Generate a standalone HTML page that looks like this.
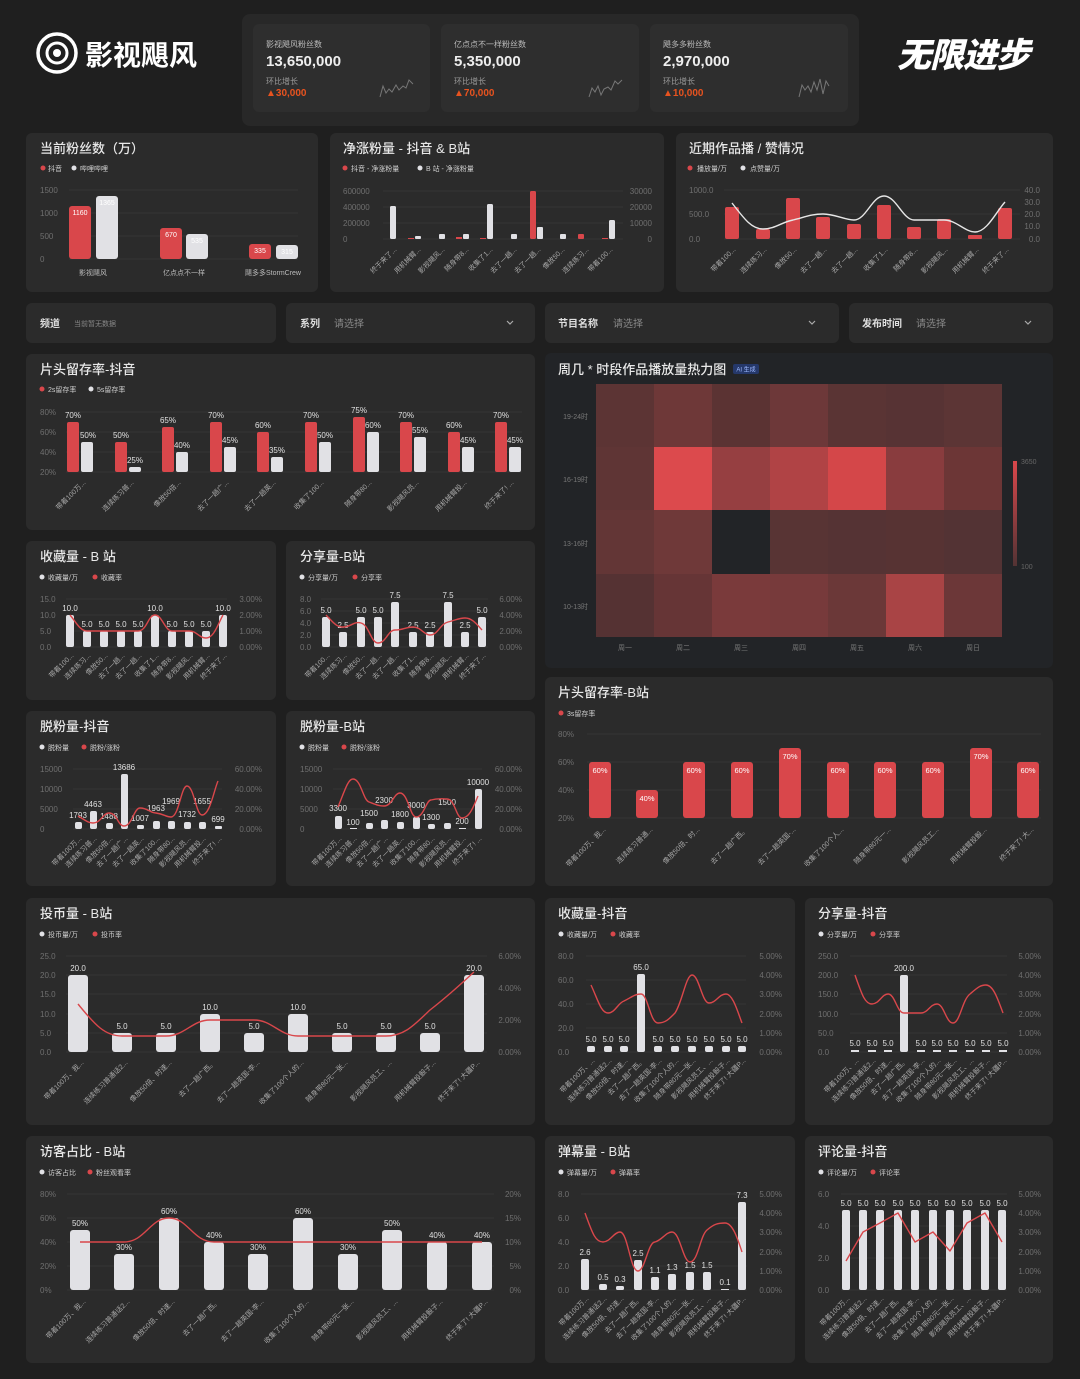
<!DOCTYPE html>
<html><head><meta charset="utf-8"><style>
html,body{margin:0;padding:0;background:#1f1f1f;}
svg{display:block;font-family:"Liberation Sans","Noto Sans CJK SC",sans-serif;}
.p{fill:#2b2b2b}
.t{fill:#e8e8e8;font-size:13px;font-weight:500}
.l{fill:#cfcfcf;font-size:7px}
.a{fill:#6f6f6f;font-size:8px}
.ar{fill:#6f6f6f;font-size:8px;text-anchor:end}
.v{fill:#e0e0e0;font-size:8px;text-anchor:middle}
.x{fill:#a8a8a8;font-size:7px;text-anchor:end}
.g{stroke:#3b3b3b;stroke-width:0.8}
.w{fill:#e1e1e5}
.r{fill:#d9474b}
.ln{fill:none;stroke:#d9474b;stroke-width:1.4;stroke-linejoin:round}
.f1{fill:#e0e0e0;font-size:10px;font-weight:600}
.f2{fill:#888;font-size:10px}
</style></head><body>
<svg width="1080" height="1379" viewBox="0 0 1080 1379" xmlns="http://www.w3.org/2000/svg">
<rect width="1080" height="1379" fill="#1f1f1f"/>

<!-- logo -->
<circle cx="57" cy="53" r="19" fill="none" stroke="#fff" stroke-width="3.5"/>
<circle cx="57" cy="53" r="10" fill="none" stroke="#fff" stroke-width="3"/>
<circle cx="57" cy="53" r="4" fill="#fff"/>
<text x="85" y="65" fill="#fff" font-size="28" font-weight="700">影视飓风</text>
<text x="897" y="67" fill="#fff" font-size="34" font-weight="900" font-style="italic" letter-spacing="-1">无限进步</text>

<!-- KPI -->
<rect x="242" y="14" width="617" height="112" rx="8" fill="#282828"/>
<rect x="253" y="24" width="177" height="88" rx="6" fill="#2e2e2e"/>
<rect x="441" y="24" width="198" height="88" rx="6" fill="#2e2e2e"/>
<rect x="650" y="24" width="198" height="88" rx="6" fill="#2e2e2e"/>
<g>
<text x="266" y="47" fill="#bbb" font-size="8">影视飓风粉丝数</text>
<text x="266" y="66" fill="#eee" font-size="15" font-weight="700">13,650,000</text>
<text x="266" y="84" fill="#999" font-size="8">环比增长</text>
<text x="266" y="96" fill="#e8531f" font-size="10" font-weight="600">▲30,000</text>
<polyline points="380,97 383,86 386,93 389,89 392,92 396,85 399,90 403,86 406,88 409,80 413,84" fill="none" stroke="#777" stroke-width="1"/>
<text x="454" y="47" fill="#bbb" font-size="8">亿点点不一样粉丝数</text>
<text x="454" y="66" fill="#eee" font-size="15" font-weight="700">5,350,000</text>
<text x="454" y="84" fill="#999" font-size="8">环比增长</text>
<text x="454" y="96" fill="#e8531f" font-size="10" font-weight="600">▲70,000</text>
<polyline points="589,97 592,88 595,92 598,86 601,95 604,89 608,87 611,90 615,81 618,84 622,80" fill="none" stroke="#777" stroke-width="1"/>
<text x="663" y="47" fill="#bbb" font-size="8">飓多多粉丝数</text>
<text x="663" y="66" fill="#eee" font-size="15" font-weight="700">2,970,000</text>
<text x="663" y="84" fill="#999" font-size="8">环比增长</text>
<text x="663" y="96" fill="#e8531f" font-size="10" font-weight="600">▲10,000</text>
<polyline points="799,97 802,85 805,90 808,86 811,92 814,82 817,90 820,79 823,94 826,81 829,86" fill="none" stroke="#777" stroke-width="1"/>
</g>

<!-- P1 当前粉丝数 -->
<rect class="p" x="26" y="133" width="292" height="159" rx="6"/>
<text class="t" x="40" y="153">当前粉丝数（万）</text>
<circle class="r" cx="43" cy="168" r="2.5"/><text class="l" x="48" y="171">抖音</text>
<circle class="w" cx="74" cy="168" r="2.5"/><text class="l" x="80" y="171">哔哩哔哩</text>
<g class="g"><line x1="69" x2="298" y1="190" y2="190"/><line x1="69" x2="298" y1="213" y2="213"/><line x1="69" x2="298" y1="236" y2="236"/><line x1="69" x2="298" y1="259" y2="259"/></g>
<text class="a" x="40" y="193">1500</text><text class="a" x="40" y="216">1000</text><text class="a" x="40" y="239">500</text><text class="a" x="40" y="262">0</text>
<rect class="r" x="69" y="206" width="22" height="53" rx="3"/><rect class="w" x="96" y="196" width="22" height="63" rx="3"/>
<rect class="r" x="160" y="228" width="22" height="31" rx="3"/><rect class="w" x="186" y="234" width="22" height="25" rx="3"/>
<rect class="r" x="249" y="244" width="22" height="15" rx="3"/><rect class="w" x="276" y="245" width="22" height="14" rx="3"/>
<g font-size="7" text-anchor="middle"><text x="80" y="215" fill="#fff">1160</text><text x="107" y="205" fill="#fff">1365</text><text x="171" y="237" fill="#fff">670</text><text x="197" y="243" fill="#fff">535</text><text x="260" y="253" fill="#fff">335</text><text x="287" y="254" fill="#fff">315</text></g>
<g fill="#bbb" font-size="7" text-anchor="middle"><text x="93" y="275">影视飓风</text><text x="184" y="275">亿点点不一样</text><text x="273" y="275">飓多多StormCrew</text></g>

<!-- P2 净涨粉量 -->
<rect class="p" x="330" y="133" width="334" height="159" rx="6"/>
<text class="t" x="343" y="153">净涨粉量 - 抖音 &amp; B站</text>
<circle class="r" cx="345" cy="168" r="2.5"/><text class="l" x="351" y="171">抖音 - 净涨粉量</text>
<circle class="w" cx="420" cy="168" r="2.5"/><text class="l" x="426" y="171">B 站 - 净涨粉量</text>
<g class="g"><line x1="383" x2="623" y1="191" y2="191"/><line x1="383" x2="623" y1="207" y2="207"/><line x1="383" x2="623" y1="223" y2="223"/><line x1="383" x2="623" y1="239" y2="239"/></g>
<text class="a" x="343" y="194">600000</text><text class="a" x="343" y="210">400000</text><text class="a" x="343" y="226">200000</text><text class="a" x="343" y="242">0</text>
<text class="ar" x="652" y="194">30000</text><text class="ar" x="652" y="210">20000</text><text class="ar" x="652" y="226">10000</text><text class="ar" x="652" y="242">0</text>
<rect class="w" x="390" y="206" width="6" height="33" rx="1.5"/>
<rect class="r" x="408" y="238" width="6" height="1"/><rect class="w" x="415" y="236" width="6" height="3" rx="1"/>
<rect class="w" x="439" y="234" width="6" height="5" rx="1"/>
<rect class="r" x="456" y="237" width="6" height="2"/><rect class="w" x="463" y="234" width="6" height="5" rx="1"/>
<rect class="r" x="480" y="238" width="6" height="1"/><rect class="w" x="487" y="204" width="6" height="35" rx="1.5"/>
<rect class="w" x="511" y="234" width="6" height="5" rx="1"/>
<rect class="r" x="530" y="191" width="6" height="48" rx="1.5"/><rect class="w" x="537" y="227" width="6" height="12" rx="1"/>
<rect class="w" x="560" y="234" width="6" height="5" rx="1"/>
<rect class="r" x="578" y="234" width="6" height="5" rx="1"/>
<rect class="r" x="602" y="238" width="6" height="1"/><rect class="w" x="609" y="220" width="6" height="19" rx="1.5"/>
<g class="x"><text transform="translate(397,250) rotate(-45)">终于来了...</text><text transform="translate(421,250) rotate(-45)">用机械臂...</text><text transform="translate(445,250) rotate(-45)">影视飓风...</text><text transform="translate(469,250) rotate(-45)">随身带8...</text><text transform="translate(493,250) rotate(-45)">收集了1...</text><text transform="translate(517,250) rotate(-45)">去了一趟...</text><text transform="translate(541,250) rotate(-45)">去了一趟...</text><text transform="translate(565,250) rotate(-45)">像放50...</text><text transform="translate(589,250) rotate(-45)">连续练习...</text><text transform="translate(613,250) rotate(-45)">带着100...</text></g>

<!-- P3 近期作品 -->
<rect class="p" x="676" y="133" width="377" height="159" rx="6"/>
<text class="t" x="689" y="153">近期作品播 / 赞情况</text>
<circle class="r" cx="690" cy="168" r="2.5"/><text class="l" x="697" y="171">播放量/万</text>
<circle class="w" cx="743" cy="168" r="2.5"/><text class="l" x="750" y="171">点赞量/万</text>
<g class="g"><line x1="724" x2="1020" y1="190" y2="190"/><line x1="724" x2="1020" y1="214" y2="214"/><line x1="724" x2="1020" y1="239" y2="239"/></g>
<text class="a" x="689" y="193">1000.0</text><text class="a" x="689" y="217">500.0</text><text class="a" x="689" y="242">0.0</text>
<text class="ar" x="1040" y="193">40.0</text><text class="ar" x="1040" y="205">30.0</text><text class="ar" x="1040" y="217">20.0</text><text class="ar" x="1040" y="229">10.0</text><text class="ar" x="1040" y="242">0.0</text>
<g class="r"><rect x="725" y="207" width="14" height="32" rx="2"/><rect x="756" y="229" width="14" height="10" rx="2"/><rect x="786" y="198" width="14" height="41" rx="2"/><rect x="816" y="217" width="14" height="22" rx="2"/><rect x="847" y="224" width="14" height="15" rx="2"/><rect x="877" y="205" width="14" height="34" rx="2"/><rect x="907" y="227" width="14" height="12" rx="2"/><rect x="937" y="219" width="14" height="20" rx="2"/><rect x="968" y="235" width="14" height="4" rx="1"/><rect x="998" y="208" width="14" height="31" rx="2"/></g>
<path d="M732,203 C745,220 752,229 763,229 C775,229 782,222 793,220 C805,217 812,214 823,214 C835,214 845,220 854,220 C866,220 872,196 884,196 C896,196 903,220 914,220 L944,220 C956,220 965,232 975,232 C987,232 996,212 1005,202" fill="none" stroke="#e6e6e6" stroke-width="1.4"/>
<g class="x"><text transform="translate(736,250) rotate(-45)">带着100...</text><text transform="translate(767,250) rotate(-45)">连续练习...</text><text transform="translate(797,250) rotate(-45)">像放50...</text><text transform="translate(827,250) rotate(-45)">去了一趟...</text><text transform="translate(858,250) rotate(-45)">去了一趟...</text><text transform="translate(888,250) rotate(-45)">收集了1...</text><text transform="translate(918,250) rotate(-45)">随身带8...</text><text transform="translate(948,250) rotate(-45)">影视飓风...</text><text transform="translate(979,250) rotate(-45)">用机械臂...</text><text transform="translate(1009,250) rotate(-45)">终于来了...</text></g>

<!-- Filters -->
<rect class="p" x="26" y="303" width="250" height="40" rx="6"/>
<rect class="p" x="286" y="303" width="249" height="40" rx="6"/>
<rect class="p" x="545" y="303" width="294" height="40" rx="6"/>
<rect class="p" x="849" y="303" width="204" height="40" rx="6"/>
<text class="f1" x="40" y="327">频道</text><text x="74" y="326" fill="#888" font-size="7">当前暂无数据</text>
<text class="f1" x="300" y="327">系列</text><text class="f2" x="334" y="327">请选择</text>
<text class="f1" x="558" y="327">节目名称</text><text class="f2" x="613" y="327">请选择</text>
<text class="f1" x="862" y="327">发布时间</text><text class="f2" x="916" y="327">请选择</text>
<g fill="none" stroke="#aaa" stroke-width="1.2"><polyline points="507,321 510,324 513,321"/><polyline points="809,321 812,324 815,321"/><polyline points="1025,321 1028,324 1031,321"/></g>

<!-- 片头留存率-抖音 -->
<rect class="p" x="26" y="354" width="509" height="176" rx="6"/>
<text class="t" x="40" y="374">片头留存率-抖音</text>
<circle class="r" cx="42" cy="389" r="2.5"/><text class="l" x="48" y="392">2s留存率</text>
<circle class="w" cx="91" cy="389" r="2.5"/><text class="l" x="97" y="392">5s留存率</text>
<g class="g"><line x1="66" x2="522" y1="412" y2="412"/><line x1="66" x2="522" y1="432" y2="432"/><line x1="66" x2="522" y1="452" y2="452"/><line x1="66" x2="522" y1="472" y2="472"/></g>
<text class="a" x="40" y="415">80%</text><text class="a" x="40" y="435">60%</text><text class="a" x="40" y="455">40%</text><text class="a" x="40" y="475">20%</text>
<g class="r"><rect x="67" y="422" width="12" height="50" rx="2"/><rect x="115" y="442" width="12" height="30" rx="2"/><rect x="162" y="427" width="12" height="45" rx="2"/><rect x="210" y="422" width="12" height="50" rx="2"/><rect x="257" y="432" width="12" height="40" rx="2"/><rect x="305" y="422" width="12" height="50" rx="2"/><rect x="353" y="417" width="12" height="55" rx="2"/><rect x="400" y="422" width="12" height="50" rx="2"/><rect x="448" y="432" width="12" height="40" rx="2"/><rect x="495" y="422" width="12" height="50" rx="2"/></g>
<g class="w"><rect x="81" y="442" width="12" height="30" rx="2"/><rect x="129" y="467" width="12" height="5" rx="2"/><rect x="176" y="452" width="12" height="20" rx="2"/><rect x="224" y="447" width="12" height="25" rx="2"/><rect x="271" y="457" width="12" height="15" rx="2"/><rect x="319" y="442" width="12" height="30" rx="2"/><rect x="367" y="432" width="12" height="40" rx="2"/><rect x="414" y="437" width="12" height="35" rx="2"/><rect x="462" y="447" width="12" height="25" rx="2"/><rect x="509" y="447" width="12" height="25" rx="2"/></g>
<g class="v"><text x="73" y="418">70%</text><text x="121" y="438">50%</text><text x="168" y="423">65%</text><text x="216" y="418">70%</text><text x="263" y="428">60%</text><text x="311" y="418">70%</text><text x="359" y="413">75%</text><text x="406" y="418">70%</text><text x="454" y="428">60%</text><text x="501" y="418">70%</text>
<text x="88" y="438">50%</text><text x="135" y="463">25%</text><text x="182" y="448">40%</text><text x="230" y="443">45%</text><text x="277" y="453">35%</text><text x="325" y="438">50%</text><text x="373" y="428">60%</text><text x="420" y="433">55%</text><text x="468" y="443">45%</text><text x="515" y="443">45%</text></g>
<g class="x"><text transform="translate(86,483) rotate(-45)">带着100万...</text><text transform="translate(134,483) rotate(-45)">连续练习普...</text><text transform="translate(181,483) rotate(-45)">像放50倍...</text><text transform="translate(229,483) rotate(-45)">去了一趟广...</text><text transform="translate(276,483) rotate(-45)">去了一趟英...</text><text transform="translate(324,483) rotate(-45)">收集了100...</text><text transform="translate(372,483) rotate(-45)">随身带80...</text><text transform="translate(419,483) rotate(-45)">影视飓风员...</text><text transform="translate(467,483) rotate(-45)">用机械臂投...</text><text transform="translate(514,483) rotate(-45)">终于来了! ...</text></g>

<!-- Heatmap -->
<rect x="545" y="353" width="508" height="315" rx="6" fill="#222427"/>
<text class="t" x="558" y="374">周几 * 时段作品播放量热力图</text>
<rect x="733" y="364" width="26" height="10" rx="2" fill="#25386a"/><text x="746" y="371.5" fill="#9db8ff" font-size="6" text-anchor="middle">AI 生成</text>
<g>
<rect x="596" y="384" width="58" height="64" fill="#5c3434"/><rect x="654" y="384" width="58" height="64" fill="#6e3838"/><rect x="712" y="384" width="58" height="64" fill="#5b3333"/><rect x="770" y="384" width="58" height="64" fill="#6d3839"/><rect x="828" y="384" width="58" height="64" fill="#5a3434"/><rect x="886" y="384" width="58" height="64" fill="#573334"/><rect x="944" y="384" width="58" height="64" fill="#5c3535"/>
<rect x="596" y="447" width="58" height="64" fill="#5f3535"/><rect x="654" y="447" width="58" height="64" fill="#dc4a4d"/><rect x="712" y="447" width="58" height="64" fill="#963f41"/><rect x="770" y="447" width="58" height="64" fill="#b04345"/><rect x="828" y="447" width="58" height="64" fill="#d44749"/><rect x="886" y="447" width="58" height="64" fill="#893c3e"/><rect x="944" y="447" width="58" height="64" fill="#6c3636"/>
<rect x="596" y="510" width="58" height="64" fill="#633636"/><rect x="654" y="510" width="58" height="64" fill="#6f3939"/><rect x="712" y="510" width="58" height="64" fill="#222427"/><rect x="770" y="510" width="58" height="64" fill="#583434"/><rect x="828" y="510" width="58" height="64" fill="#553334"/><rect x="886" y="510" width="58" height="64" fill="#573333"/><rect x="944" y="510" width="58" height="64" fill="#533334"/>
<rect x="596" y="574" width="58" height="63" fill="#553233"/><rect x="654" y="574" width="58" height="63" fill="#663536"/><rect x="712" y="574" width="58" height="63" fill="#7a3a3b"/><rect x="770" y="574" width="58" height="63" fill="#773a3b"/><rect x="828" y="574" width="58" height="63" fill="#6b3838"/><rect x="886" y="574" width="58" height="63" fill="#a94445"/><rect x="944" y="574" width="58" height="63" fill="#6c3738"/>
</g>
<g class="ar" font-size="7"><text x="588" y="419" fill="#777" font-size="7">19-24时</text><text x="588" y="482" fill="#777" font-size="7">16-19时</text><text x="588" y="546" fill="#777" font-size="7">13-16时</text><text x="588" y="609" fill="#777" font-size="7">10-13时</text></g>
<g fill="#777" font-size="7" text-anchor="middle"><text x="625" y="650">周一</text><text x="683" y="650">周二</text><text x="741" y="650">周三</text><text x="799" y="650">周四</text><text x="857" y="650">周五</text><text x="915" y="650">周六</text><text x="973" y="650">周日</text></g>
<defs><linearGradient id="cb" x1="0" y1="0" x2="0" y2="1"><stop offset="0" stop-color="#d9474b"/><stop offset="1" stop-color="#533334"/></linearGradient></defs>
<rect x="1013" y="461" width="4" height="105" fill="url(#cb)"/>
<text x="1021" y="464" fill="#666" font-size="7">3650</text><text x="1021" y="569" fill="#666" font-size="7">100</text>

<!-- 收藏量-B站 -->
<rect class="p" x="26" y="541" width="250" height="159" rx="6"/>
<text class="t" x="40" y="561">收藏量 - B 站</text>
<circle class="w" cx="42" cy="577" r="2.5"/><text class="l" x="48" y="580">收藏量/万</text>
<circle class="r" cx="95" cy="577" r="2.5"/><text class="l" x="101" y="580">收藏率</text>
<g class="g"><line x1="66" x2="227" y1="599" y2="599"/><line x1="66" x2="227" y1="615" y2="615"/><line x1="66" x2="227" y1="631" y2="631"/><line x1="66" x2="227" y1="647" y2="647"/></g>
<text class="a" x="40" y="602">15.0</text><text class="a" x="40" y="618">10.0</text><text class="a" x="40" y="634">5.0</text><text class="a" x="40" y="650">0.0</text>
<text class="ar" x="262" y="602">3.00%</text><text class="ar" x="262" y="618">2.00%</text><text class="ar" x="262" y="634">1.00%</text><text class="ar" x="262" y="650">0.00%</text>
<g class="w"><rect x="66" y="615" width="8" height="32" rx="2"/><rect x="83" y="631" width="8" height="16" rx="2"/><rect x="100" y="631" width="8" height="16" rx="2"/><rect x="117" y="631" width="8" height="16" rx="2"/><rect x="134" y="631" width="8" height="16" rx="2"/><rect x="151" y="615" width="8" height="32" rx="2"/><rect x="168" y="631" width="8" height="16" rx="2"/><rect x="185" y="631" width="8" height="16" rx="2"/><rect x="202" y="631" width="8" height="16" rx="2"/><rect x="219" y="615" width="8" height="32" rx="2"/></g>
<g class="v" font-size="7"><text x="70" y="611">10.0</text><text x="87" y="627">5.0</text><text x="104" y="627">5.0</text><text x="121" y="627">5.0</text><text x="138" y="627">5.0</text><text x="155" y="611">10.0</text><text x="172" y="627">5.0</text><text x="189" y="627">5.0</text><text x="206" y="627">5.0</text><text x="223" y="611">10.0</text></g>
<path class="ln" d="M70,615 C76,622 80,631 87,631 L138,631 C147,631 148,615 155,615 C162,615 165,631 172,631 L189,631 C197,631 199,638 206,638 C214,638 218,624 223,615"/>
<g class="x" font-size="6.5"><text transform="translate(74,656) rotate(-45)">带着100...</text><text transform="translate(91,656) rotate(-45)">连续练习...</text><text transform="translate(108,656) rotate(-45)">像放50...</text><text transform="translate(125,656) rotate(-45)">去了一趟...</text><text transform="translate(142,656) rotate(-45)">去了一趟...</text><text transform="translate(159,656) rotate(-45)">收集了1...</text><text transform="translate(176,656) rotate(-45)">随身带8...</text><text transform="translate(193,656) rotate(-45)">影视飓风...</text><text transform="translate(210,656) rotate(-45)">用机械臂...</text><text transform="translate(227,656) rotate(-45)">终于来了...</text></g>

<!-- 分享量-B站 -->
<rect class="p" x="286" y="541" width="249" height="159" rx="6"/>
<text class="t" x="300" y="561">分享量-B站</text>
<circle class="w" cx="302" cy="577" r="2.5"/><text class="l" x="308" y="580">分享量/万</text>
<circle class="r" cx="355" cy="577" r="2.5"/><text class="l" x="361" y="580">分享率</text>
<g class="g"><line x1="321" x2="488" y1="599" y2="599"/><line x1="321" x2="488" y1="611" y2="611"/><line x1="321" x2="488" y1="623" y2="623"/><line x1="321" x2="488" y1="635" y2="635"/><line x1="321" x2="488" y1="647" y2="647"/></g>
<text class="a" x="300" y="602">8.0</text><text class="a" x="300" y="614">6.0</text><text class="a" x="300" y="626">4.0</text><text class="a" x="300" y="638">2.0</text><text class="a" x="300" y="650">0.0</text>
<text class="ar" x="522" y="602">6.00%</text><text class="ar" x="522" y="618">4.00%</text><text class="ar" x="522" y="634">2.00%</text><text class="ar" x="522" y="650">0.00%</text>
<g class="w"><rect x="322" y="617" width="8" height="30" rx="2"/><rect x="339" y="632" width="8" height="15" rx="2"/><rect x="357" y="617" width="8" height="30" rx="2"/><rect x="374" y="617" width="8" height="30" rx="2"/><rect x="391" y="602" width="8" height="45" rx="2"/><rect x="409" y="632" width="8" height="15" rx="2"/><rect x="426" y="632" width="8" height="15" rx="2"/><rect x="444" y="602" width="8" height="45" rx="2"/><rect x="461" y="632" width="8" height="15" rx="2"/><rect x="478" y="617" width="8" height="30" rx="2"/></g>
<g class="v" font-size="7"><text x="326" y="613">5.0</text><text x="343" y="628">2.5</text><text x="361" y="613">5.0</text><text x="378" y="613">5.0</text><text x="395" y="598">7.5</text><text x="413" y="628">2.5</text><text x="430" y="628">2.5</text><text x="448" y="598">7.5</text><text x="465" y="628">2.5</text><text x="482" y="613">5.0</text></g>
<path class="ln" d="M326,615 C333,622 336,627 343,627 C351,627 354,621 361,623 C369,625 371,643 378,643 C386,643 388,630 395,630 C403,630 406,627 413,627 C421,627 424,635 430,635 C438,635 440,624 448,622 C456,620 459,618 465,618 C473,618 478,626 482,630"/>
<g class="x" font-size="6.5"><text transform="translate(330,656) rotate(-45)">带着100...</text><text transform="translate(347,656) rotate(-45)">连续练习...</text><text transform="translate(365,656) rotate(-45)">像放50...</text><text transform="translate(382,656) rotate(-45)">去了一趟...</text><text transform="translate(399,656) rotate(-45)">去了一趟...</text><text transform="translate(417,656) rotate(-45)">收集了1...</text><text transform="translate(434,656) rotate(-45)">随身带8...</text><text transform="translate(452,656) rotate(-45)">影视飓风...</text><text transform="translate(469,656) rotate(-45)">用机械臂...</text><text transform="translate(486,656) rotate(-45)">终于来了...</text></g>

<!-- 片头留存率-B站 -->
<rect class="p" x="545" y="677" width="508" height="209" rx="6"/>
<text class="t" x="558" y="697">片头留存率-B站</text>
<circle class="r" cx="561" cy="713" r="2.5"/><text class="l" x="567" y="716">3s留存率</text>
<g class="g"><line x1="587" x2="1041" y1="734" y2="734"/><line x1="587" x2="1041" y1="762" y2="762"/><line x1="587" x2="1041" y1="790" y2="790"/><line x1="587" x2="1041" y1="818" y2="818"/></g>
<text class="a" x="558" y="737">80%</text><text class="a" x="558" y="765">60%</text><text class="a" x="558" y="793">40%</text><text class="a" x="558" y="821">20%</text>
<g class="r"><rect x="589" y="762" width="22" height="56" rx="3"/><rect x="636" y="790" width="22" height="28" rx="3"/><rect x="683" y="762" width="22" height="56" rx="3"/><rect x="731" y="762" width="22" height="56" rx="3"/><rect x="779" y="748" width="22" height="70" rx="3"/><rect x="827" y="762" width="22" height="56" rx="3"/><rect x="874" y="762" width="22" height="56" rx="3"/><rect x="922" y="762" width="22" height="56" rx="3"/><rect x="970" y="748" width="22" height="70" rx="3"/><rect x="1017" y="762" width="22" height="56" rx="3"/></g>
<g fill="#fff" font-size="7.5" text-anchor="middle"><text x="600" y="773">60%</text><text x="647" y="801">40%</text><text x="694" y="773">60%</text><text x="742" y="773">60%</text><text x="790" y="759">70%</text><text x="838" y="773">60%</text><text x="885" y="773">60%</text><text x="933" y="773">60%</text><text x="981" y="759">70%</text><text x="1028" y="773">60%</text></g>
<g class="x"><text transform="translate(606,830) rotate(-45)">带着100万、我...</text><text transform="translate(653,830) rotate(-45)">连续练习普通...</text><text transform="translate(700,830) rotate(-45)">像放50倍、时...</text><text transform="translate(748,830) rotate(-45)">去了一趟广西。</text><text transform="translate(796,830) rotate(-45)">去了一趟英国-...</text><text transform="translate(844,830) rotate(-45)">收集了100个人...</text><text transform="translate(891,830) rotate(-45)">随身带80元一...</text><text transform="translate(939,830) rotate(-45)">影视飓风员工...</text><text transform="translate(987,830) rotate(-45)">用机械臂投骰...</text><text transform="translate(1034,830) rotate(-45)">终于来了! 大...</text></g>

<!-- 脱粉量-抖音 -->
<rect class="p" x="26" y="711" width="250" height="175" rx="6"/>
<text class="t" x="40" y="731">脱粉量-抖音</text>
<circle class="w" cx="42" cy="747" r="2.5"/><text class="l" x="48" y="750">脱粉量</text>
<circle class="r" cx="84" cy="747" r="2.5"/><text class="l" x="90" y="750">脱粉/涨粉</text>
<g class="g"><line x1="73" x2="222" y1="769" y2="769"/><line x1="73" x2="222" y1="789" y2="789"/><line x1="73" x2="222" y1="809" y2="809"/><line x1="73" x2="222" y1="829" y2="829"/></g>
<text class="a" x="40" y="772">15000</text><text class="a" x="40" y="792">10000</text><text class="a" x="40" y="812">5000</text><text class="a" x="40" y="832">0</text>
<text class="ar" x="262" y="772">60.00%</text><text class="ar" x="262" y="792">40.00%</text><text class="ar" x="262" y="812">20.00%</text><text class="ar" x="262" y="832">0.00%</text>
<g class="w"><rect x="75" y="822" width="7" height="7" rx="2"/><rect x="90" y="811" width="7" height="18" rx="2"/><rect x="106" y="823" width="7" height="6" rx="2"/><rect x="121" y="774" width="7" height="55" rx="2"/><rect x="137" y="825" width="7" height="4" rx="1.5"/><rect x="153" y="821" width="7" height="8" rx="2"/><rect x="168" y="821" width="7" height="8" rx="2"/><rect x="184" y="822" width="7" height="7" rx="2"/><rect x="199" y="822" width="7" height="7" rx="2"/><rect x="215" y="826" width="7" height="3" rx="1"/></g>
<g class="v" font-size="7"><text x="78" y="818">1793</text><text x="93" y="807">4463</text><text x="109" y="819">1488</text><text x="124" y="770">13686</text><text x="140" y="821">1007</text><text x="156" y="811">1963</text><text x="171" y="804">1969</text><text x="187" y="817">1732</text><text x="202" y="804">1655</text><text x="218" y="822">699</text></g>
<path class="ln" d="M78,816 C85,820 88,823 93,823 C101,823 103,813 109,813 C117,813 118,826 124,826 C132,826 134,808 140,808 C148,808 150,813 156,813 C164,814 166,817 171,817 C179,817 181,786 187,786 C194,786 196,815 202,815 C210,815 214,790 218,781"/>
<g class="x" font-size="6.5"><text transform="translate(82,839) rotate(-45)">带着100万...</text><text transform="translate(97,839) rotate(-45)">连续练习普...</text><text transform="translate(113,839) rotate(-45)">像放50倍...</text><text transform="translate(128,839) rotate(-45)">去了一趟广...</text><text transform="translate(144,839) rotate(-45)">去了一趟英...</text><text transform="translate(160,839) rotate(-45)">收集了100...</text><text transform="translate(175,839) rotate(-45)">随身带80...</text><text transform="translate(191,839) rotate(-45)">影视飓风员...</text><text transform="translate(206,839) rotate(-45)">用机械臂投...</text><text transform="translate(222,839) rotate(-45)">终于来了! ...</text></g>

<!-- 脱粉量-B站 -->
<rect class="p" x="286" y="711" width="249" height="175" rx="6"/>
<text class="t" x="300" y="731">脱粉量-B站</text>
<circle class="w" cx="302" cy="747" r="2.5"/><text class="l" x="308" y="750">脱粉量</text>
<circle class="r" cx="344" cy="747" r="2.5"/><text class="l" x="350" y="750">脱粉/涨粉</text>
<g class="g"><line x1="333" x2="482" y1="769" y2="769"/><line x1="333" x2="482" y1="789" y2="789"/><line x1="333" x2="482" y1="809" y2="809"/><line x1="333" x2="482" y1="829" y2="829"/></g>
<text class="a" x="300" y="772">15000</text><text class="a" x="300" y="792">10000</text><text class="a" x="300" y="812">5000</text><text class="a" x="300" y="832">0</text>
<text class="ar" x="522" y="772">60.00%</text><text class="ar" x="522" y="792">40.00%</text><text class="ar" x="522" y="812">20.00%</text><text class="ar" x="522" y="832">0.00%</text>
<g class="w"><rect x="335" y="816" width="7" height="13" rx="2"/><rect x="350" y="828" width="7" height="1"/><rect x="366" y="823" width="7" height="6" rx="2"/><rect x="381" y="820" width="7" height="9" rx="2"/><rect x="397" y="822" width="7" height="7" rx="2"/><rect x="413" y="817" width="7" height="12" rx="2"/><rect x="428" y="824" width="7" height="5" rx="2"/><rect x="444" y="823" width="7" height="6" rx="2"/><rect x="459" y="828" width="7" height="1"/><rect x="475" y="789" width="7" height="40" rx="2"/></g>
<g class="v" font-size="7"><text x="338" y="811">3300</text><text x="353" y="825">100</text><text x="369" y="816">1500</text><text x="384" y="803">2300</text><text x="400" y="817">1800</text><text x="416" y="808">3000</text><text x="431" y="820">1300</text><text x="447" y="805">1500</text><text x="462" y="824">200</text><text x="478" y="785">10000</text></g>
<path class="ln" d="M338,807 C345,790 348,779 353,779 C361,779 363,800 369,802 C377,805 379,806 384,806 C392,806 394,793 400,793 C408,793 410,817 416,817 C424,817 426,800 431,800 C439,798 441,799 447,799 C455,799 456,818 462,818 C470,818 474,805 478,796"/>
<g class="x" font-size="6.5"><text transform="translate(342,839) rotate(-45)">带着100万...</text><text transform="translate(357,839) rotate(-45)">连续练习普...</text><text transform="translate(373,839) rotate(-45)">像放50倍...</text><text transform="translate(388,839) rotate(-45)">去了一趟广...</text><text transform="translate(404,839) rotate(-45)">去了一趟英...</text><text transform="translate(420,839) rotate(-45)">收集了100...</text><text transform="translate(435,839) rotate(-45)">随身带80...</text><text transform="translate(451,839) rotate(-45)">影视飓风员...</text><text transform="translate(466,839) rotate(-45)">用机械臂投...</text><text transform="translate(482,839) rotate(-45)">终于来了! ...</text></g>

<!-- 投币量-B站 -->
<rect class="p" x="26" y="898" width="509" height="227" rx="6"/>
<text class="t" x="40" y="918">投币量 - B站</text>
<circle class="w" cx="42" cy="934" r="2.5"/><text class="l" x="48" y="937">投币量/万</text>
<circle class="r" cx="95" cy="934" r="2.5"/><text class="l" x="101" y="937">投币率</text>
<g class="g"><line x1="66" x2="487" y1="956" y2="956"/><line x1="66" x2="487" y1="975" y2="975"/><line x1="66" x2="487" y1="994" y2="994"/><line x1="66" x2="487" y1="1014" y2="1014"/><line x1="66" x2="487" y1="1033" y2="1033"/><line x1="66" x2="487" y1="1052" y2="1052"/></g>
<text class="a" x="40" y="959">25.0</text><text class="a" x="40" y="978">20.0</text><text class="a" x="40" y="997">15.0</text><text class="a" x="40" y="1017">10.0</text><text class="a" x="40" y="1036">5.0</text><text class="a" x="40" y="1055">0.0</text>
<text class="ar" x="521" y="959">6.00%</text><text class="ar" x="521" y="991">4.00%</text><text class="ar" x="521" y="1023">2.00%</text><text class="ar" x="521" y="1055">0.00%</text>
<g class="w"><rect x="68" y="975" width="20" height="77" rx="3"/><rect x="112" y="1033" width="20" height="19" rx="3"/><rect x="156" y="1033" width="20" height="19" rx="3"/><rect x="200" y="1014" width="20" height="38" rx="3"/><rect x="244" y="1033" width="20" height="19" rx="3"/><rect x="288" y="1014" width="20" height="38" rx="3"/><rect x="332" y="1033" width="20" height="19" rx="3"/><rect x="376" y="1033" width="20" height="19" rx="3"/><rect x="420" y="1033" width="20" height="19" rx="3"/><rect x="464" y="975" width="20" height="77" rx="3"/></g>
<g class="v" font-size="7.5"><text x="78" y="971">20.0</text><text x="122" y="1029">5.0</text><text x="166" y="1029">5.0</text><text x="210" y="1010">10.0</text><text x="254" y="1029">5.0</text><text x="298" y="1010">10.0</text><text x="342" y="1029">5.0</text><text x="386" y="1029">5.0</text><text x="430" y="1029">5.0</text><text x="474" y="971">20.0</text></g>
<path class="ln" d="M78,1004 C95,1025 105,1036 122,1036 L166,1036 C185,1036 192,1020 210,1020 L254,1020 C272,1020 280,1036 298,1036 L386,1036 C405,1036 415,1024 430,1010 C448,996 460,985 474,972"/>
<g class="x"><text transform="translate(84,1063) rotate(-45)">带着100万、我...</text><text transform="translate(128,1063) rotate(-45)">连续练习普通话2...</text><text transform="translate(172,1063) rotate(-45)">像放50倍、时速...</text><text transform="translate(216,1063) rotate(-45)">去了一趟广西。</text><text transform="translate(260,1063) rotate(-45)">去了一趟英国-李...</text><text transform="translate(304,1063) rotate(-45)">收集了100个人的...</text><text transform="translate(348,1063) rotate(-45)">随身带80元一张...</text><text transform="translate(392,1063) rotate(-45)">影视飓风员工、...</text><text transform="translate(436,1063) rotate(-45)">用机械臂投骰子...</text><text transform="translate(480,1063) rotate(-45)">终于来了! 大疆P...</text></g>

<!-- 收藏量-抖音 -->
<rect class="p" x="545" y="898" width="250" height="227" rx="6"/>
<text class="t" x="558" y="918">收藏量-抖音</text>
<circle class="w" cx="561" cy="934" r="2.5"/><text class="l" x="567" y="937">收藏量/万</text>
<circle class="r" cx="613" cy="934" r="2.5"/><text class="l" x="619" y="937">收藏率</text>
<g class="g"><line x1="586" x2="746" y1="956" y2="956"/><line x1="586" x2="746" y1="980" y2="980"/><line x1="586" x2="746" y1="1004" y2="1004"/><line x1="586" x2="746" y1="1028" y2="1028"/><line x1="586" x2="746" y1="1052" y2="1052"/></g>
<text class="a" x="558" y="959">80.0</text><text class="a" x="558" y="983">60.0</text><text class="a" x="558" y="1007">40.0</text><text class="a" x="558" y="1031">20.0</text><text class="a" x="558" y="1055">0.0</text>
<text class="ar" x="782" y="959">5.00%</text><text class="ar" x="782" y="978">4.00%</text><text class="ar" x="782" y="997">3.00%</text><text class="ar" x="782" y="1017">2.00%</text><text class="ar" x="782" y="1036">1.00%</text><text class="ar" x="782" y="1055">0.00%</text>
<g class="w"><rect x="587" y="1046" width="8" height="6" rx="2"/><rect x="604" y="1046" width="8" height="6" rx="2"/><rect x="620" y="1046" width="8" height="6" rx="2"/><rect x="637" y="974" width="8" height="78" rx="2"/><rect x="654" y="1046" width="8" height="6" rx="2"/><rect x="671" y="1046" width="8" height="6" rx="2"/><rect x="688" y="1046" width="8" height="6" rx="2"/><rect x="705" y="1046" width="8" height="6" rx="2"/><rect x="722" y="1046" width="8" height="6" rx="2"/><rect x="738" y="1046" width="8" height="6" rx="2"/></g>
<g class="v" font-size="7"><text x="591" y="1042">5.0</text><text x="608" y="1042">5.0</text><text x="624" y="1042">5.0</text><text x="641" y="970">65.0</text><text x="658" y="1042">5.0</text><text x="675" y="1042">5.0</text><text x="692" y="1042">5.0</text><text x="709" y="1042">5.0</text><text x="726" y="1042">5.0</text><text x="742" y="1042">5.0</text></g>
<path class="ln" d="M591,985 C598,1000 601,1013 608,1013 C615,1013 618,1003 624,1001 C632,997 635,994 641,994 C648,994 650,1023 658,1023 C666,1023 670,1018 675,1013 C682,1003 686,975 692,975 C699,975 702,1003 709,1003 C716,1003 719,994 726,994 C733,994 738,1013 742,1023"/>
<g class="x" font-size="6.5"><text transform="translate(595,1061) rotate(-45)">带着100万、...</text><text transform="translate(612,1061) rotate(-45)">连续练习普通话2...</text><text transform="translate(628,1061) rotate(-45)">像放50倍、时速...</text><text transform="translate(645,1061) rotate(-45)">去了一趟广西。</text><text transform="translate(662,1061) rotate(-45)">去了一趟英国-李...</text><text transform="translate(679,1061) rotate(-45)">收集了100个人的...</text><text transform="translate(696,1061) rotate(-45)">随身带80元一张...</text><text transform="translate(713,1061) rotate(-45)">影视飓风员工、...</text><text transform="translate(730,1061) rotate(-45)">用机械臂投骰子...</text><text transform="translate(746,1061) rotate(-45)">终于来了! 大疆P...</text></g>

<!-- 分享量-抖音 -->
<rect class="p" x="805" y="898" width="248" height="227" rx="6"/>
<text class="t" x="818" y="918">分享量-抖音</text>
<circle class="w" cx="821" cy="934" r="2.5"/><text class="l" x="827" y="937">分享量/万</text>
<circle class="r" cx="873" cy="934" r="2.5"/><text class="l" x="879" y="937">分享率</text>
<g class="g"><line x1="850" x2="1007" y1="956" y2="956"/><line x1="850" x2="1007" y1="975" y2="975"/><line x1="850" x2="1007" y1="994" y2="994"/><line x1="850" x2="1007" y1="1014" y2="1014"/><line x1="850" x2="1007" y1="1033" y2="1033"/><line x1="850" x2="1007" y1="1052" y2="1052"/></g>
<text class="a" x="818" y="959">250.0</text><text class="a" x="818" y="978">200.0</text><text class="a" x="818" y="997">150.0</text><text class="a" x="818" y="1017">100.0</text><text class="a" x="818" y="1036">50.0</text><text class="a" x="818" y="1055">0.0</text>
<text class="ar" x="1041" y="959">5.00%</text><text class="ar" x="1041" y="978">4.00%</text><text class="ar" x="1041" y="997">3.00%</text><text class="ar" x="1041" y="1017">2.00%</text><text class="ar" x="1041" y="1036">1.00%</text><text class="ar" x="1041" y="1055">0.00%</text>
<g class="w"><rect x="851" y="1050" width="8" height="2"/><rect x="868" y="1050" width="8" height="2"/><rect x="884" y="1050" width="8" height="2"/><rect x="900" y="975" width="8" height="77" rx="2"/><rect x="917" y="1050" width="8" height="2"/><rect x="933" y="1050" width="8" height="2"/><rect x="949" y="1050" width="8" height="2"/><rect x="966" y="1050" width="8" height="2"/><rect x="982" y="1050" width="8" height="2"/><rect x="999" y="1050" width="8" height="2"/></g>
<g class="v" font-size="7"><text x="855" y="1046">5.0</text><text x="872" y="1046">5.0</text><text x="888" y="1046">5.0</text><text x="904" y="971">200.0</text><text x="921" y="1046">5.0</text><text x="937" y="1046">5.0</text><text x="953" y="1046">5.0</text><text x="970" y="1046">5.0</text><text x="986" y="1046">5.0</text><text x="1003" y="1046">5.0</text></g>
<path class="ln" d="M855,975 C862,995 865,1004 872,1004 C879,1004 882,994 888,994 C895,994 897,1013 904,1013 L921,1013 C928,1013 930,1004 937,1004 C944,1004 946,1023 953,1023 C960,1023 962,1000 970,994 C977,988 980,985 986,985 C994,985 999,1003 1003,1013"/>
<g class="x" font-size="6.5"><text transform="translate(859,1061) rotate(-45)">带着100万、...</text><text transform="translate(876,1061) rotate(-45)">连续练习普通话2...</text><text transform="translate(892,1061) rotate(-45)">像放50倍、时速...</text><text transform="translate(908,1061) rotate(-45)">去了一趟广西。</text><text transform="translate(925,1061) rotate(-45)">去了一趟英国-李...</text><text transform="translate(941,1061) rotate(-45)">收集了100个人的...</text><text transform="translate(957,1061) rotate(-45)">随身带80元一张...</text><text transform="translate(974,1061) rotate(-45)">影视飓风员工、...</text><text transform="translate(990,1061) rotate(-45)">用机械臂投骰子...</text><text transform="translate(1007,1061) rotate(-45)">终于来了! 大疆P...</text></g>

<!-- 访客占比-B站 -->
<rect class="p" x="26" y="1136" width="509" height="227" rx="6"/>
<text class="t" x="40" y="1156">访客占比 - B站</text>
<circle class="w" cx="42" cy="1172" r="2.5"/><text class="l" x="48" y="1175">访客占比</text>
<circle class="r" cx="90" cy="1172" r="2.5"/><text class="l" x="96" y="1175">粉丝观看率</text>
<g class="g"><line x1="67" x2="494" y1="1194" y2="1194"/><line x1="67" x2="494" y1="1218" y2="1218"/><line x1="67" x2="494" y1="1242" y2="1242"/><line x1="67" x2="494" y1="1266" y2="1266"/><line x1="67" x2="494" y1="1290" y2="1290"/></g>
<text class="a" x="40" y="1197">80%</text><text class="a" x="40" y="1221">60%</text><text class="a" x="40" y="1245">40%</text><text class="a" x="40" y="1269">20%</text><text class="a" x="40" y="1293">0%</text>
<text class="ar" x="521" y="1197">20%</text><text class="ar" x="521" y="1221">15%</text><text class="ar" x="521" y="1245">10%</text><text class="ar" x="521" y="1269">5%</text><text class="ar" x="521" y="1293">0%</text>
<g class="w"><rect x="70" y="1230" width="20" height="60" rx="3"/><rect x="114" y="1254" width="20" height="36" rx="3"/><rect x="159" y="1218" width="20" height="72" rx="3"/><rect x="204" y="1242" width="20" height="48" rx="3"/><rect x="248" y="1254" width="20" height="36" rx="3"/><rect x="293" y="1218" width="20" height="72" rx="3"/><rect x="338" y="1254" width="20" height="36" rx="3"/><rect x="382" y="1230" width="20" height="60" rx="3"/><rect x="427" y="1242" width="20" height="48" rx="3"/><rect x="472" y="1242" width="20" height="48" rx="3"/></g>
<g class="v" font-size="7.5"><text x="80" y="1226">50%</text><text x="124" y="1250">30%</text><text x="169" y="1214">60%</text><text x="214" y="1238">40%</text><text x="258" y="1250">30%</text><text x="303" y="1214">60%</text><text x="348" y="1250">30%</text><text x="392" y="1226">50%</text><text x="437" y="1238">40%</text><text x="482" y="1238">40%</text></g>
<path class="ln" d="M80,1242 L124,1242 C145,1242 150,1218 169,1218 C188,1218 193,1242 214,1242 L482,1242"/>
<g class="x"><text transform="translate(86,1302) rotate(-45)">带着100万、我...</text><text transform="translate(130,1302) rotate(-45)">连续练习普通话2...</text><text transform="translate(175,1302) rotate(-45)">像放50倍、时速...</text><text transform="translate(220,1302) rotate(-45)">去了一趟广西。</text><text transform="translate(264,1302) rotate(-45)">去了一趟英国-李...</text><text transform="translate(309,1302) rotate(-45)">收集了100个人的...</text><text transform="translate(354,1302) rotate(-45)">随身带80元一张...</text><text transform="translate(398,1302) rotate(-45)">影视飓风员工、...</text><text transform="translate(443,1302) rotate(-45)">用机械臂投骰子...</text><text transform="translate(488,1302) rotate(-45)">终于来了! 大疆P...</text></g>

<!-- 弹幕量-B站 -->
<rect class="p" x="545" y="1136" width="250" height="227" rx="6"/>
<text class="t" x="558" y="1156">弹幕量 - B站</text>
<circle class="w" cx="561" cy="1172" r="2.5"/><text class="l" x="567" y="1175">弹幕量/万</text>
<circle class="r" cx="613" cy="1172" r="2.5"/><text class="l" x="619" y="1175">弹幕率</text>
<g class="g"><line x1="581" x2="747" y1="1194" y2="1194"/><line x1="581" x2="747" y1="1218" y2="1218"/><line x1="581" x2="747" y1="1242" y2="1242"/><line x1="581" x2="747" y1="1266" y2="1266"/><line x1="581" x2="747" y1="1290" y2="1290"/></g>
<text class="a" x="558" y="1197">8.0</text><text class="a" x="558" y="1221">6.0</text><text class="a" x="558" y="1245">4.0</text><text class="a" x="558" y="1269">2.0</text><text class="a" x="558" y="1293">0.0</text>
<text class="ar" x="782" y="1197">5.00%</text><text class="ar" x="782" y="1216">4.00%</text><text class="ar" x="782" y="1235">3.00%</text><text class="ar" x="782" y="1255">2.00%</text><text class="ar" x="782" y="1274">1.00%</text><text class="ar" x="782" y="1293">0.00%</text>
<g class="w"><rect x="581" y="1259" width="8" height="31" rx="2"/><rect x="599" y="1284" width="8" height="6" rx="2"/><rect x="616" y="1286" width="8" height="4" rx="1.5"/><rect x="634" y="1260" width="8" height="30" rx="2"/><rect x="651" y="1277" width="8" height="13" rx="2"/><rect x="668" y="1274" width="8" height="16" rx="2"/><rect x="686" y="1272" width="8" height="18" rx="2"/><rect x="703" y="1272" width="8" height="18" rx="2"/><rect x="721" y="1289" width="8" height="1"/><rect x="738" y="1202" width="8" height="88" rx="2"/></g>
<g class="v" font-size="7"><text x="585" y="1255">2.6</text><text x="603" y="1280">0.5</text><text x="620" y="1282">0.3</text><text x="638" y="1256">2.5</text><text x="655" y="1273">1.1</text><text x="672" y="1270">1.3</text><text x="690" y="1268">1.5</text><text x="707" y="1268">1.5</text><text x="725" y="1285">0.1</text><text x="742" y="1198">7.3</text></g>
<path class="ln" d="M585,1213 C592,1232 595,1242 603,1242 C610,1242 614,1232 620,1232 C628,1232 630,1271 638,1271 C645,1271 648,1242 655,1242 C662,1240 666,1232 672,1232 C680,1232 683,1262 690,1262 C698,1262 700,1236 707,1230 C714,1224 718,1223 725,1223 C733,1223 738,1240 742,1252"/>
<g class="x" font-size="6.5"><text transform="translate(589,1299) rotate(-45)">带着100万...</text><text transform="translate(607,1299) rotate(-45)">连续练习普通话2...</text><text transform="translate(624,1299) rotate(-45)">像放50倍、时速...</text><text transform="translate(642,1299) rotate(-45)">去了一趟广西。</text><text transform="translate(659,1299) rotate(-45)">去了一趟英国-李...</text><text transform="translate(676,1299) rotate(-45)">收集了100个人的...</text><text transform="translate(694,1299) rotate(-45)">随身带80元一张...</text><text transform="translate(711,1299) rotate(-45)">影视飓风员工、...</text><text transform="translate(729,1299) rotate(-45)">用机械臂投骰子...</text><text transform="translate(746,1299) rotate(-45)">终于来了! 大疆P...</text></g>

<!-- 评论量-抖音 -->
<rect class="p" x="805" y="1136" width="248" height="227" rx="6"/>
<text class="t" x="818" y="1156">评论量-抖音</text>
<circle class="w" cx="821" cy="1172" r="2.5"/><text class="l" x="827" y="1175">评论量/万</text>
<circle class="r" cx="873" cy="1172" r="2.5"/><text class="l" x="879" y="1175">评论率</text>
<g class="g"><line x1="841" x2="1007" y1="1194" y2="1194"/><line x1="841" x2="1007" y1="1226" y2="1226"/><line x1="841" x2="1007" y1="1258" y2="1258"/><line x1="841" x2="1007" y1="1290" y2="1290"/></g>
<text class="a" x="818" y="1197">6.0</text><text class="a" x="818" y="1229">4.0</text><text class="a" x="818" y="1261">2.0</text><text class="a" x="818" y="1293">0.0</text>
<text class="ar" x="1041" y="1197">5.00%</text><text class="ar" x="1041" y="1216">4.00%</text><text class="ar" x="1041" y="1235">3.00%</text><text class="ar" x="1041" y="1255">2.00%</text><text class="ar" x="1041" y="1274">1.00%</text><text class="ar" x="1041" y="1293">0.00%</text>
<g class="w"><rect x="842" y="1210" width="8" height="80" rx="2"/><rect x="859" y="1210" width="8" height="80" rx="2"/><rect x="876" y="1210" width="8" height="80" rx="2"/><rect x="894" y="1210" width="8" height="80" rx="2"/><rect x="911" y="1210" width="8" height="80" rx="2"/><rect x="929" y="1210" width="8" height="80" rx="2"/><rect x="946" y="1210" width="8" height="80" rx="2"/><rect x="963" y="1210" width="8" height="80" rx="2"/><rect x="981" y="1210" width="8" height="80" rx="2"/><rect x="998" y="1210" width="8" height="80" rx="2"/></g>
<g class="v" font-size="7"><text x="846" y="1206">5.0</text><text x="863" y="1206">5.0</text><text x="880" y="1206">5.0</text><text x="898" y="1206">5.0</text><text x="915" y="1206">5.0</text><text x="933" y="1206">5.0</text><text x="950" y="1206">5.0</text><text x="967" y="1206">5.0</text><text x="985" y="1206">5.0</text><text x="1002" y="1206">5.0</text></g>
<polyline class="ln" points="846,1261 863,1232 880,1223 898,1213 915,1242 933,1232 950,1251 967,1223 985,1213 1002,1242"/>
<g class="x" font-size="6.5"><text transform="translate(850,1299) rotate(-45)">带着100万...</text><text transform="translate(867,1299) rotate(-45)">连续练习普通话2...</text><text transform="translate(884,1299) rotate(-45)">像放50倍、时速...</text><text transform="translate(902,1299) rotate(-45)">去了一趟广西。</text><text transform="translate(919,1299) rotate(-45)">去了一趟英国-李...</text><text transform="translate(937,1299) rotate(-45)">收集了100个人的...</text><text transform="translate(954,1299) rotate(-45)">随身带80元一张...</text><text transform="translate(971,1299) rotate(-45)">影视飓风员工、...</text><text transform="translate(989,1299) rotate(-45)">用机械臂投骰子...</text><text transform="translate(1006,1299) rotate(-45)">终于来了! 大疆P...</text></g>
</svg>
</body></html>
